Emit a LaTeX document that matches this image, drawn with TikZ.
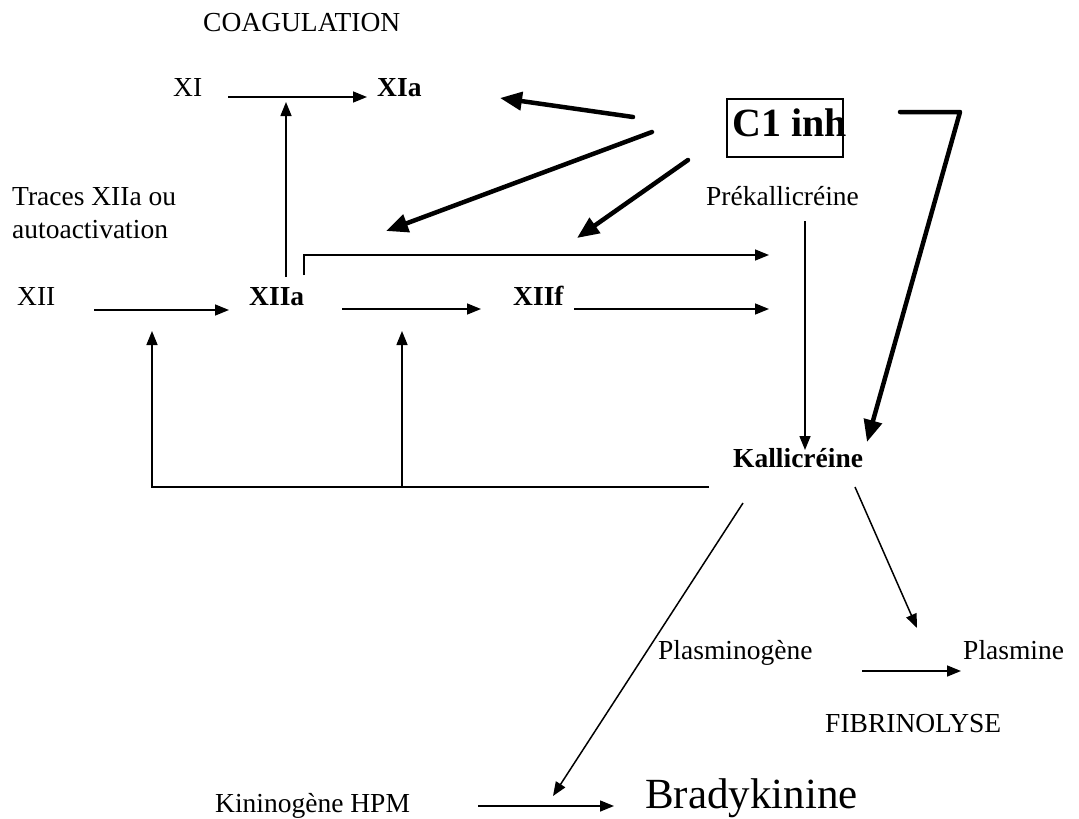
\documentclass[tikz,border=0pt]{standalone}
\usepackage{fontspec}
\setmainfont{Liberation Serif}
\usetikzlibrary{arrows.meta}
\tikzset{
  lbl/.style={anchor=base west, inner sep=0pt, font=\fontsize{27.5}{32}\selectfont},
  lblb/.style={anchor=base west, inner sep=0pt, font=\fontsize{27.5}{32}\selectfont\bfseries},
  fleche/.style={line width=1.5pt, -{Triangle[length=14pt,width=11pt]}},
  inhib/.style={line width=4.5pt, line cap=round, -{Triangle[length=22pt,width=18pt]}},
}
\begin{document}
\begin{tikzpicture}[x=1pt,y=-1pt]
  \useasboundingbox (0,0) rectangle (1079,819);

  % Text Nodes
  \node [lbl] (coag) at (203,31) {COAGULATION};
  \node [lbl] (xi) at (173,96) {XI};
  \node [lblb] (xia) at (377,96) {XIa};
  \node [anchor=base west, inner sep=0pt, font=\fontsize{40}{48}\selectfont\bfseries] (c1inh) at (732,136) {C1 inh};
  \node [lbl] (prek) at (706,205) {Prékallicréine};
  \node [lbl] (traces) at (12,205) {Traces XIIa ou};
  \node [lbl] (autoact) at (12,238) {autoactivation};
  \node [lbl] (xii) at (17,305) {XII};
  \node [lblb] (xiia) at (249,305) {XIIa};
  \node [lblb] (xiif) at (513,305) {XIIf};
  \node [lblb] (kall) at (733,467) {Kallicréine};
  \node [lbl] (plasminogene) at (658,659) {Plasminogène};
  \node [lbl] (plasmine) at (963,659) {Plasmine};
  \node [lbl] (fibrino) at (825,732) {FIBRINOLYSE};
  \node [lbl] (kinino) at (215,812) {Kininogène HPM};
  \node [anchor=base west, inner sep=0pt, font=\fontsize{43}{50}\selectfont] (brady) at (645,808) {Bradykinine};

  % box round C1 inh
  \draw [line width=1.5pt] (727,99) rectangle (843,157);

  % Connector ends
  \coordinate (xiA) at (228,97);     \coordinate (xiB) at (367,97);
  \coordinate (upA) at (286,277);    \coordinate (upB) at (286,102);
  \coordinate (brA) at (304,275);    \coordinate (brB) at (769,255);
  \coordinate (xiiA) at (94,310);    \coordinate (xiiB) at (229,310);
  \coordinate (xiiaA) at (342,309);  \coordinate (xiiaB) at (481,309);
  \coordinate (xiifA) at (574,309);  \coordinate (xiifB) at (769,309);
  \coordinate (prekA) at (805,221);  \coordinate (prekB) at (805,450);
  \coordinate (fbA) at (709,487);    \coordinate (fbB) at (152,487);
  \coordinate (fbC) at (152,331);
  \coordinate (fbD) at (402,487);    \coordinate (fbE) at (402,331);
  \coordinate (kallA) at (743,503);  \coordinate (kallB) at (553,796);
  \coordinate (kallC) at (855,487);  \coordinate (kallD) at (917,628);
  \coordinate (plA) at (862,671);    \coordinate (plB) at (961,671);
  \coordinate (kinA) at (478,806);   \coordinate (kinB) at (614,806);
  \coordinate (c1A) at (633,117);    \coordinate (c1B) at (500,98);
  \coordinate (c1C) at (652,132);    \coordinate (c1D) at (386,231);
  \coordinate (c1E) at (688,160);    \coordinate (c1F) at (577,238);
  \coordinate (c1G) at (900,112);    \coordinate (c1H) at (960,112);
  \coordinate (c1I) at (867,442);

  % Straight Lines
  \draw [fleche] (xiA) -- (xiB);
  \draw [fleche] (upA) -- (upB);
  \draw [fleche] (brA) |- (brB);
  \draw [fleche] (xiiA) -- (xiiB);
  \draw [fleche] (xiiaA) -- (xiiaB);
  \draw [fleche] (xiifA) -- (xiifB);
  \draw [fleche] (prekA) -- (prekB);
  \draw [fleche] (fbA) -- (fbB) -- (fbC);
  \draw [fleche] (fbD) -- (fbE);
  \draw [fleche] (kallA) -- (kallB);
  \draw [fleche] (kallC) -- (kallD);
  \draw [fleche] (plA) -- (plB);
  \draw [fleche] (kinA) -- (kinB);

  % C1 inh inhibitions
  \draw [inhib] (c1A) -- (c1B);
  \draw [inhib] (c1C) -- (c1D);
  \draw [inhib] (c1E) -- (c1F);
  \draw [inhib, line join=round] (c1G) -- (c1H) -- (c1I);
\end{tikzpicture}
\end{document}
